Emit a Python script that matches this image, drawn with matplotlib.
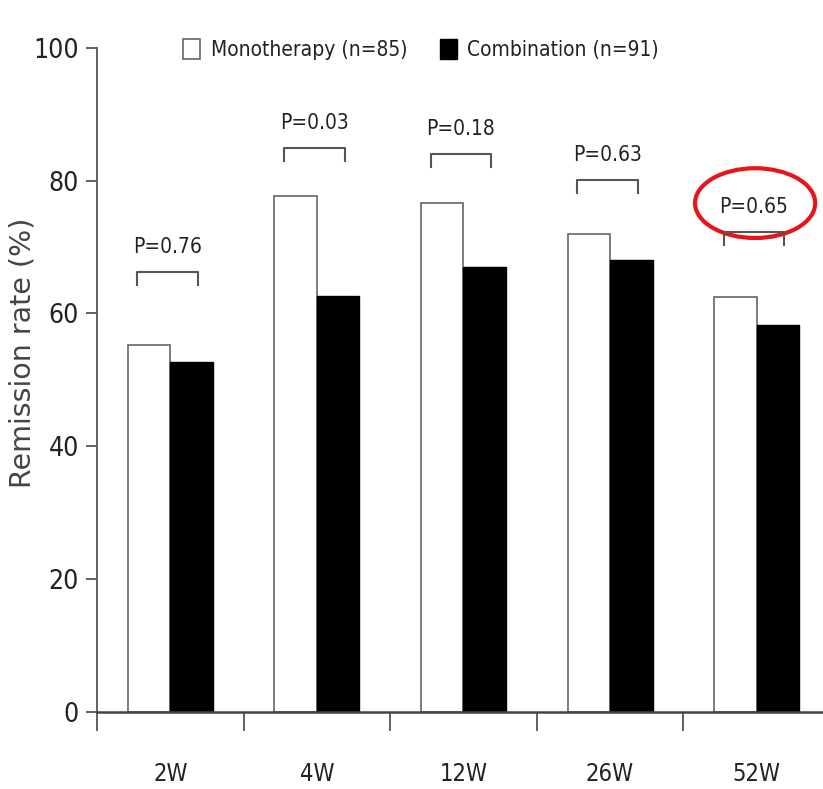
import matplotlib
matplotlib.use('Agg')
import matplotlib.pyplot as plt
import numpy as np
from matplotlib.patches import Ellipse

# data
weeks = ['2W', '4W', '12W', '26W', '52W']
mono = [55.3, 77.6, 76.6, 72.0, 62.5]
combo = [52.7, 62.6, 67.0, 68.1, 58.3]
p_labels = ['P=0.76', 'P=0.03', 'P=0.18', 'P=0.63', 'P=0.65']
bracket_y = [66.3, 84.9, 84.0, 80.1, 72.3]

plt.rcParams['font.family'] = ['DejaVu Sans']
plt.rcParams['font.stretch'] = 'condensed'
txt = '#222222'

fig = plt.figure(figsize=(8.23, 7.89), dpi=100)
ax = fig.add_axes([0.118, 0.0976, 0.885, 0.842])

x = np.arange(len(weeks)) + 0.5
w = 0.29
ax.bar(x - w / 2, mono, w, color='white', edgecolor='#666666', linewidth=1.2,
       label='Monotherapy (n=85)')
ax.bar(x + w / 2, combo, w, color='black', edgecolor='black', linewidth=1.0,
       label='Combination (n=91)')

# p-value brackets
for xi, yb, lab in zip(x, bracket_y, p_labels):
    x0, x1 = xi - 0.225, xi + 0.19
    ax.plot([x0, x0, x1, x1], [yb - 2.0, yb, yb, yb - 2.0], color='#555555', lw=1.5)
    ax.text((x0 + x1) / 2, yb + 2.2, lab, ha='center', va='bottom', fontsize=15, color=txt)

# red circle around the last p-value
ax.add_patch(Ellipse((x[-1] - 0.01, 76.6), 0.82, 10.5, fill=False,
                     edgecolor='#e8141b', lw=3, clip_on=False))

ax.set_xlim(0, 4.97)
ax.set_ylim(0, 100)
ax.set_yticks([0, 20, 40, 60, 80, 100])
ax.set_xticks(np.arange(0, 5))
ax.set_xticklabels([])
ax.set_xticks(x, minor=True)
ax.set_xticklabels(weeks, minor=True, fontsize=17, color=txt)
ax.tick_params(axis='x', which='major', direction='out', length=14, color='#555555', width=1.3)
ax.tick_params(axis='x', which='minor', length=0, pad=36)
ax.tick_params(axis='y', direction='out', length=8, color='#555555', width=1.3,
               labelsize=19, labelcolor=txt, pad=5)

for s in ['top', 'right']:
    ax.spines[s].set_visible(False)
ax.spines['left'].set_color('#555555')
ax.spines['bottom'].set_color('#444444')
ax.spines['left'].set_linewidth(1.3)
ax.spines['bottom'].set_linewidth(1.8)

ax.set_ylabel('Remission rate (%)', fontsize=20.5, color='#444444',
              fontstretch='normal')
ax.yaxis.set_label_coords(-0.083, 0.54)

ax.legend(loc='upper center', bbox_to_anchor=(0.445, 1.042), ncol=2, frameon=False,
          fontsize=15, handlelength=0.8, handleheight=1.1, handletextpad=0.5,
          columnspacing=1.6, labelcolor=txt)

fig.savefig('out.png', dpi=100)
